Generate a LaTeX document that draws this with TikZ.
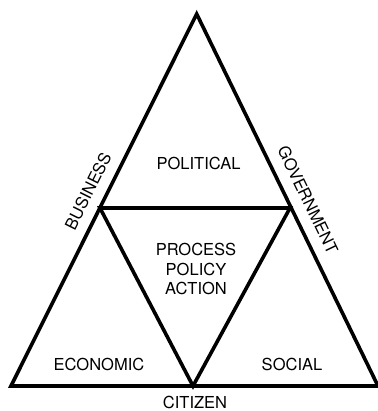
\documentclass[tikz,border=0pt]{standalone}
\usepackage{fontspec}
\setmainfont{TeX Gyre Heros}
\begin{document}
\begin{tikzpicture}[x=1pt,y=-1pt,
  edge/.style={line width=3.6pt,line join=miter,black},
  lbl/.style={font=\fontsize{16.5}{19.5}\selectfont,inner sep=0pt,align=center}]
\useasboundingbox (0,0) rectangle (377,411);
\coordinate (L) at (11,386);
\coordinate (T) at (196.7,14);
\coordinate (R) at (378,386);
\coordinate (ML) at (100,208);
\coordinate (MR) at (290,208);
\coordinate (MB) at (193,386);
\draw[edge] (L) -- (T) -- (R) -- cycle;
\draw[edge] (ML) -- (MR) -- (MB) -- cycle;
\node[lbl] (pol) at (198.5,163.5) {POLITICAL};
\node[lbl] (ppa) at (196,269) {PROCESS\\POLICY\\ACTION};
\node[lbl] (eco) at (99,364.5) {ECONOMIC};
\node[lbl] (soc) at (292,364.5) {SOCIAL};
\node[lbl] (cit) at (195,402.5) {CITIZEN};
\node[lbl,rotate=63.5] (bus) at (88,191) {BUSINESS};
\node[lbl,rotate=-64.3] (gov) at (308,200) {GOVERNMENT};
\end{tikzpicture}
\end{document}
